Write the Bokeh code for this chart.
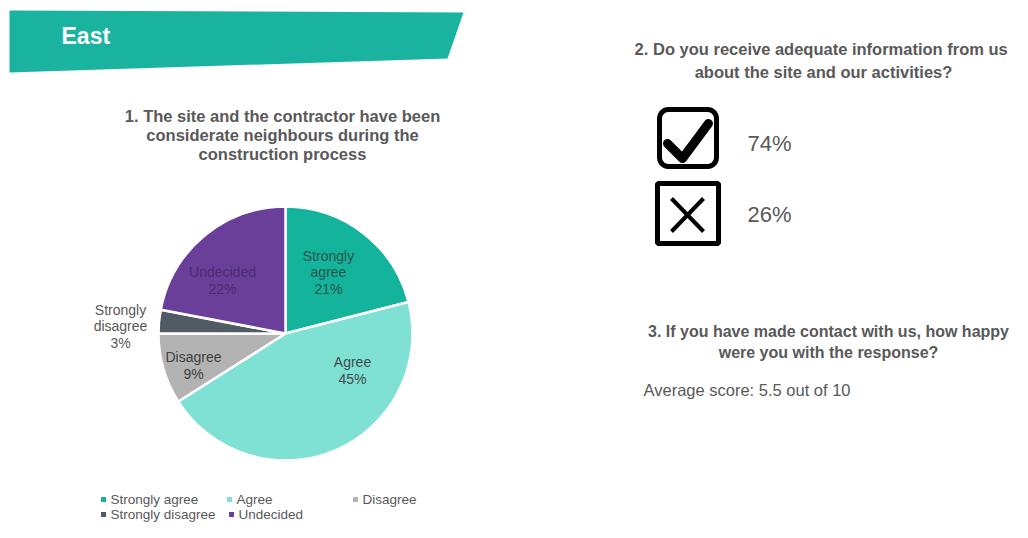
import numpy as np
from bokeh.plotting import figure
from bokeh.models import Range1d, ColumnDataSource
from bokeh.core.properties import value
from bokeh.embed import file_html
from bokeh.resources import INLINE

# ---------------- data ----------------
region = "East"
q1_title = ["1. The site and the contractor have been",
            "considerate neighbours during the",
            "construction process"]
categories = ["Strongly agree", "Agree", "Disagree", "Strongly disagree", "Undecided"]
shares = [21, 45, 9, 3, 22]
colors = ["#14b39b", "#7fe0d4", "#b3b3b3", "#515b63", "#6a3f99"]

q2_title = ["2. Do you receive adequate information from  us",
            "about the site and our activities?"]
q2_answers = ["Yes", "No"]
q2_shares = [74, 26]

q3_title = ["3. If you have made contact with us, how happy",
            "were you with the response?"]
q3_average = 5.5
q3_scale_max = 10

# ---------------- layout helpers ----------------
FONT = value("Liberation Sans")
GREY = "#595959"
W, H = 1012, 522


def Y(py):
    """top-down pixel y -> figure y (bottom-up)"""
    return H - py


p = figure(width=W, height=H, x_range=Range1d(0, W), y_range=Range1d(0, H),
           output_backend="svg", toolbar_location=None, min_border=0)
p.axis.visible = False
p.grid.visible = False
p.outline_line_color = None
p.background_fill_color = "white"

# ---------------- banner ----------------
p.patch(x=[9, 463, 447, 9], y=[Y(10), Y(12), Y(58), Y(72)],
        fill_color="#1ab3a0", line_color=None)
p.text(x=[61], y=[Y(35)], text=[region], text_font=FONT, text_font_style="bold",
       text_font_size="23px", text_color="white", text_baseline="middle")

# ---------------- Q1 pie ----------------
for i, line in enumerate(q1_title):
    p.text(x=[282], y=[Y(115 + 19 * i)], text=[line], text_font=FONT,
           text_font_style="bold", text_font_size="16.5px", text_color=GREY,
           text_align="center", text_baseline="middle")

cx, cy, R = 285, Y(333), 127
frac = np.array(shares, dtype=float) / sum(shares)
cum = np.concatenate([[0], np.cumsum(frac)])
start = np.pi / 2 - 2 * np.pi * cum[1:]
end = np.pi / 2 - 2 * np.pi * cum[:-1]
src = ColumnDataSource(dict(cat=categories, start=start, end=end, color=colors))
p.wedge(x=cx, y=cy, radius=R, start_angle="start", end_angle="end",
        fill_color="color", line_color="white", line_width=2.5, source=src)

label_pos = [(328, 272), (352, 370), (193, 365), (120, 326), (222, 280)]
label_col = ["#27534d", "#3f4a4a", "#3f3f3f", GREY, "#4a2c72"]
for cat, s, (lx, ly), col in zip(categories, shares, label_pos, label_col):
    words = cat.split(" ")
    txt = "\n".join(words + [f"{s}%"])
    p.text(x=[lx], y=[Y(ly)], text=[txt], text_font=FONT, text_font_size="14px",
           text_color=col, text_align="center", text_baseline="middle",
           text_line_height=1.05)

# legend
leg_pos = [(103, 499), (229, 499), (355, 499), (103, 514), (231, 514)]
for cat, col, (lx, ly) in zip(categories, colors, leg_pos):
    p.scatter(x=[lx], y=[Y(ly)], marker="square", size=5, fill_color=col, line_color=None)
    p.text(x=[lx + 7], y=[Y(ly)], text=[cat], text_font=FONT, text_font_size="13.5px",
           text_color=GREY, text_baseline="middle")

# ---------------- Q2 ----------------
for i, line in enumerate(q2_title):
    p.text(x=[823], y=[Y(48 + 23 * i)], text=[line], text_font=FONT,
           text_font_style="bold", text_font_size="16.5px", text_color=GREY,
           text_align="center", text_baseline="middle")


def rounded_rect(x0, y0, x1, y1, r, n=8):
    xs, ys = [], []
    corners = [(x1 - r, y1 - r, 0), (x0 + r, y1 - r, np.pi / 2),
               (x0 + r, y0 + r, np.pi), (x1 - r, y0 + r, 1.5 * np.pi)]
    for ccx, ccy, a0 in corners:
        t = np.linspace(a0, a0 + np.pi / 2, n)
        xs += list(ccx + r * np.cos(t))
        ys += list(ccy + r * np.sin(t))
    return xs, ys


# tick box
bx, by = rounded_rect(659, Y(166), 716, Y(109), 9)
p.patch(bx, by, fill_color="white", line_color="black", line_width=5)
p.line(x=[667, 682, 708], y=[Y(143), Y(158), Y(123)], line_color="black",
       line_width=9, line_cap="round", line_join="round")
# cross box
p.quad(left=657, right=718, bottom=Y(243), top=Y(183), fill_color="white",
       line_color="black", line_width=5)
p.multi_line(xs=[[671, 703], [703, 671]], ys=[[Y(198), Y(231)], [Y(198), Y(231)]],
             line_color="black", line_width=4)

for s, py in zip(q2_shares, [143, 214]):
    p.text(x=[747], y=[Y(py)], text=[f"{s}%"], text_font=FONT, text_font_size="22px",
           text_color=GREY, text_baseline="middle")

# ---------------- Q3 ----------------
for i, line in enumerate(q3_title):
    p.text(x=[828], y=[Y(331 + 21 * i)], text=[line], text_font=FONT,
           text_font_style="bold", text_font_size="16px", text_color=GREY,
           text_align="center", text_baseline="middle")
p.text(x=[643], y=[Y(389)], text=[f"Average score: {q3_average} out of {q3_scale_max}"],
       text_font=FONT, text_font_size="16.5px", text_color=GREY, text_baseline="middle")

open("out.html", "w").write(file_html(p, INLINE))
